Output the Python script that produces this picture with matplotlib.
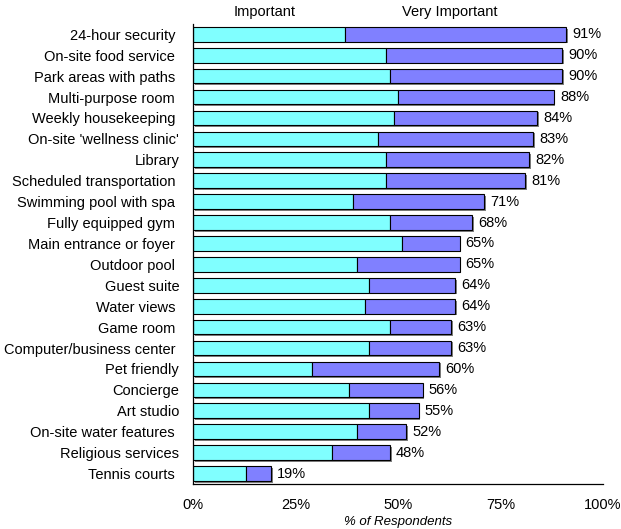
import matplotlib
matplotlib.use("Agg")
import matplotlib.pyplot as plt
import matplotlib.patheffects as pe

# amenities, top to bottom
amenities = [
    "24-hour security ", "On-site food service ", "Park areas with paths ",
    "Multi-purpose room ", "Weekly housekeeping ", "On-site 'wellness clinic'",
    "Library", "Scheduled transportation ", "Swimming pool with spa ",
    "Fully equipped gym ", "Main entrance or foyer ", "Outdoor pool ",
    "Guest suite", "Water views ", "Game room ", "Computer/business center ",
    "Pet friendly", "Concierge", "Art studio", "On-site water features ",
    "Religious services", "Tennis courts ",
]
important = [37, 47, 48, 50, 49, 45, 47, 47, 39, 48, 51, 40,
             43, 42, 48, 43, 29, 38, 43, 40, 34, 13]
total = [91, 90, 90, 88, 84, 83, 82, 81, 71, 68, 65, 65,
         64, 64, 63, 63, 60, 56, 55, 52, 48, 19]
very_important = [t - i for t, i in zip(total, important)]
xticks = [0, 25, 50, 75, 100]

plt.rcParams["font.family"] = ["Liberation Sans", "DejaVu Sans"]
fs = 10.5

fig = plt.figure(figsize=(6.21, 5.29), dpi=100)
ax = fig.add_axes([0.311, 0.085, 0.66, 0.87])

y = list(range(len(amenities)))
shadow = [pe.SimplePatchShadow(offset=(1.2, -1.2), shadow_rgbFace="#808080", alpha=1), pe.Normal()]

ax.barh(y, total, height=0.7, color="none", edgecolor="none",
        path_effects=shadow, zorder=1)
ax.barh(y, important, height=0.7, color="#80FFFF", edgecolor="black",
        linewidth=0.8, zorder=2)
ax.barh(y, very_important, left=important, height=0.7, color="#8080FF",
        edgecolor="black", linewidth=0.8, zorder=2)

for yi, t in zip(y, total):
    ax.text(t + 1.5, yi, f"{t}%", va="center", ha="left", fontsize=fs)

ax.set_ylim(len(amenities) - 0.5, -0.5)
ax.set_xlim(0, 100)
ax.set_yticks(y)
ax.set_yticklabels(amenities, fontsize=fs)
ax.set_xticks(xticks)
ax.set_xticklabels([f"{v}%" for v in xticks], fontsize=fs)
ax.tick_params(axis="both", length=0)
ax.tick_params(axis="y", pad=10)
ax.tick_params(axis="x", pad=10)
ax.set_xlabel("% of Respondents", fontsize=9.5, style="italic", labelpad=3)

for side in ["top", "right"]:
    ax.spines[side].set_visible(False)
for side in ["left", "bottom"]:
    ax.spines[side].set_linewidth(0.9)

ax.text(0.175, 1.01, "Important", transform=ax.transAxes, ha="center",
        va="bottom", fontsize=fs)
ax.text(0.625, 1.01, "Very Important", transform=ax.transAxes, ha="center",
        va="bottom", fontsize=fs)

fig.savefig("out.png", dpi=100)
